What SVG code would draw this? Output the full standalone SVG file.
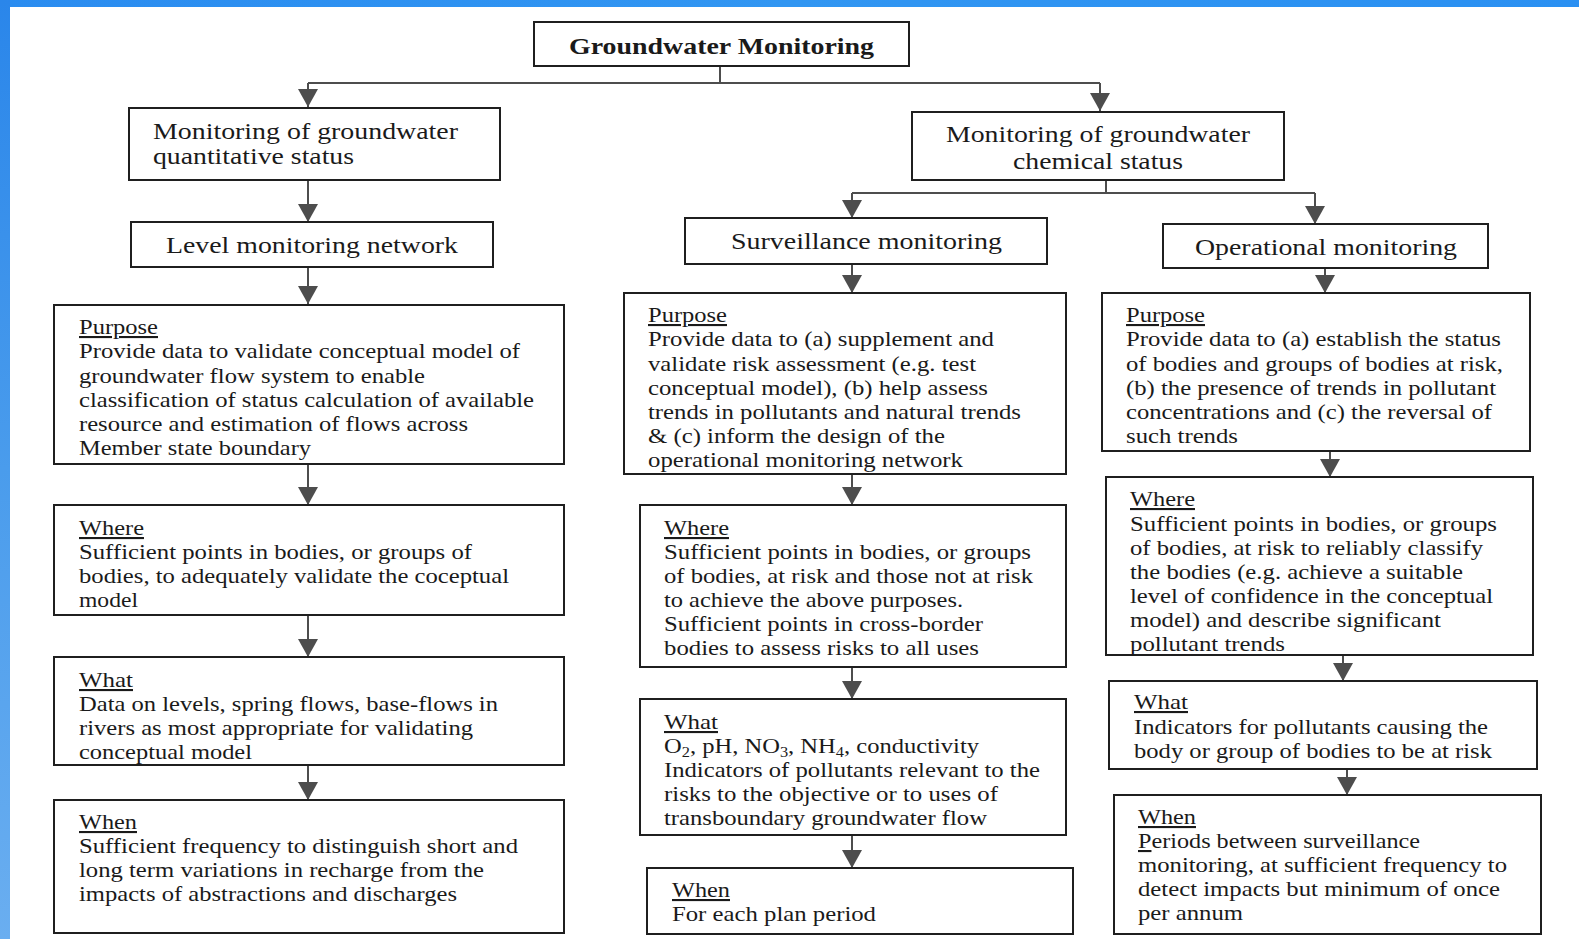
<svg xmlns="http://www.w3.org/2000/svg" width="1579" height="939" viewBox="0 0 1579 939">
<defs>
<linearGradient id="gTop" x1="0" y1="0" x2="1" y2="0">
<stop offset="0" stop-color="#2a8cf0"/><stop offset="0.5" stop-color="#3196f2"/><stop offset="1" stop-color="#2a90f2"/>
</linearGradient>
<linearGradient id="gLeft" x1="0" y1="0" x2="0" y2="1">
<stop offset="0" stop-color="#2a86ea"/><stop offset="0.5" stop-color="#4a9cec"/><stop offset="1" stop-color="#6aaef0"/>
</linearGradient>
<marker id="ah" viewBox="0 0 18 20" refX="18" refY="10" markerWidth="18" markerHeight="20" markerUnits="userSpaceOnUse" orient="auto">
<path d="M0,0 L18,10 L0,20 Z" fill="#4d4d4d"/>
</marker>
<style>
.box{fill:#fff;stroke:#1f1f1f;stroke-width:2}
.t{font-family:"Liberation Serif","Times New Roman",serif;font-size:21px;fill:#1a1a1a}
.h{font-size:23px}
.b{font-weight:bold}
.u{text-decoration:underline}
.conn{stroke:#4d4d4d;stroke-width:2;fill:none}
.arr{marker-end:url(#ah)}
.sub{font-size:14px}
</style>
</defs>
<rect x="0" y="0" width="1579" height="939" fill="#fff"/>
<rect x="0" y="0" width="1579" height="7" fill="url(#gTop)"/>
<rect x="0" y="0" width="10" height="939" fill="url(#gLeft)"/>

<g id="connectors">
<path class="conn" d="M720,67 V83 M308,83 H1100"/>
<path class="conn arr" d="M308,83 V107"/>
<path class="conn arr" d="M1100,83 V111"/>
<path class="conn arr" d="M308,180 V222"/>
<path class="conn arr" d="M308,267 V304"/>
<path class="conn arr" d="M308,464 V505"/>
<path class="conn arr" d="M308,615 V657"/>
<path class="conn arr" d="M308,765 V800"/>
<path class="conn" d="M1106,180 V193 M852,193 H1315"/>
<path class="conn arr" d="M852,193 V218"/>
<path class="conn arr" d="M1315,193 V224"/>
<path class="conn arr" d="M852,264 V293"/>
<path class="conn arr" d="M852,474 V505"/>
<path class="conn arr" d="M852,667 V699"/>
<path class="conn arr" d="M852,835 V868"/>
<path class="conn arr" d="M1325,268 V293"/>
<path class="conn arr" d="M1330,451 V477"/>
<path class="conn arr" d="M1343,655 V681"/>
<path class="conn arr" d="M1347,769 V795"/>
</g>

<g id="n-root">
<rect class="box" x="534" y="22" width="375" height="44"/>
<text class="t h b" x="569" y="54" textLength="305" lengthAdjust="spacingAndGlyphs">Groundwater Monitoring</text>
</g>

<g id="n-quant">
<rect class="box" x="129" y="108" width="371" height="72"/>
<text class="t h" x="153" y="139" textLength="305" lengthAdjust="spacingAndGlyphs">Monitoring of groundwater</text>
<text class="t h" x="153" y="164" textLength="201" lengthAdjust="spacingAndGlyphs">quantitative status</text>
</g>

<g id="n-level">
<rect class="box" x="131" y="222" width="362" height="45"/>
<text class="t h" x="166" y="253" textLength="292" lengthAdjust="spacingAndGlyphs">Level monitoring network</text>
</g>

<g id="n-l-purpose">
<rect class="box" x="54" y="305" width="510" height="159"/>
<text class="t u" x="79" y="334" textLength="79" lengthAdjust="spacingAndGlyphs">Purpose</text>
<text class="t" x="79" y="358" textLength="441" lengthAdjust="spacingAndGlyphs">Provide data to validate conceptual model of</text>
<text class="t" x="79" y="383" textLength="346" lengthAdjust="spacingAndGlyphs">groundwater flow system to enable</text>
<text class="t" x="79" y="407" textLength="455" lengthAdjust="spacingAndGlyphs">classification of status calculation of available</text>
<text class="t" x="79" y="431" textLength="389" lengthAdjust="spacingAndGlyphs">resource and estimation of flows across</text>
<text class="t" x="79" y="455" textLength="232" lengthAdjust="spacingAndGlyphs">Member state boundary</text>
</g>

<g id="n-l-where">
<rect class="box" x="54" y="505" width="510" height="110"/>
<text class="t u" x="79" y="535" textLength="65" lengthAdjust="spacingAndGlyphs">Where</text>
<text class="t" x="79" y="559" textLength="393" lengthAdjust="spacingAndGlyphs">Sufficient points in bodies, or groups of</text>
<text class="t" x="79" y="583" textLength="430" lengthAdjust="spacingAndGlyphs">bodies, to adequately validate the coceptual</text>
<text class="t" x="79" y="607" textLength="59" lengthAdjust="spacingAndGlyphs">model</text>
</g>

<g id="n-l-what">
<rect class="box" x="54" y="657" width="510" height="108"/>
<text class="t u" x="79" y="687" textLength="54" lengthAdjust="spacingAndGlyphs">What</text>
<text class="t" x="79" y="711" textLength="419" lengthAdjust="spacingAndGlyphs">Data on levels, spring flows, base-flows in</text>
<text class="t" x="79" y="735" textLength="394" lengthAdjust="spacingAndGlyphs">rivers as most appropriate for validating</text>
<text class="t" x="79" y="759" textLength="173" lengthAdjust="spacingAndGlyphs">conceptual model</text>
</g>

<g id="n-l-when">
<rect class="box" x="54" y="800" width="510" height="133"/>
<text class="t u" x="79" y="829" textLength="58" lengthAdjust="spacingAndGlyphs">When</text>
<text class="t" x="79" y="853" textLength="439" lengthAdjust="spacingAndGlyphs">Sufficient frequency to distinguish short and</text>
<text class="t" x="79" y="877" textLength="405" lengthAdjust="spacingAndGlyphs">long term variations in recharge from the</text>
<text class="t" x="79" y="901" textLength="378" lengthAdjust="spacingAndGlyphs">impacts of abstractions and discharges</text>
</g>

<g id="n-chem">
<rect class="box" x="912" y="112" width="372" height="68"/>
<text class="t h" x="946" y="142" textLength="304" lengthAdjust="spacingAndGlyphs">Monitoring of groundwater</text>
<text class="t h" x="1013" y="169" textLength="170" lengthAdjust="spacingAndGlyphs">chemical status</text>
</g>

<g id="n-surv">
<rect class="box" x="685" y="218" width="362" height="46"/>
<text class="t h" x="731" y="249" textLength="271" lengthAdjust="spacingAndGlyphs">Surveillance monitoring</text>
</g>

<g id="n-oper">
<rect class="box" x="1163" y="224" width="325" height="44"/>
<text class="t h" x="1195" y="255" textLength="262" lengthAdjust="spacingAndGlyphs">Operational monitoring</text>
</g>

<g id="n-m-purpose">
<rect class="box" x="624" y="293" width="442" height="181"/>
<text class="t u" x="648" y="322" textLength="79" lengthAdjust="spacingAndGlyphs">Purpose</text>
<text class="t" x="648" y="346" textLength="346" lengthAdjust="spacingAndGlyphs">Provide data to (a) supplement and</text>
<text class="t" x="648" y="371" textLength="328" lengthAdjust="spacingAndGlyphs">validate risk assessment (e.g. test</text>
<text class="t" x="648" y="395" textLength="340" lengthAdjust="spacingAndGlyphs">conceptual model), (b) help assess</text>
<text class="t" x="648" y="419" textLength="373" lengthAdjust="spacingAndGlyphs">trends in pollutants and natural trends</text>
<text class="t" x="648" y="443" textLength="297" lengthAdjust="spacingAndGlyphs">&amp; (c) inform the design of the</text>
<text class="t" x="648" y="467" textLength="315" lengthAdjust="spacingAndGlyphs">operational monitoring network</text>
</g>

<g id="n-m-where">
<rect class="box" x="640" y="505" width="426" height="162"/>
<text class="t u" x="664" y="535" textLength="65" lengthAdjust="spacingAndGlyphs">Where</text>
<text class="t" x="664" y="559" textLength="367" lengthAdjust="spacingAndGlyphs">Sufficient points in bodies, or groups</text>
<text class="t" x="664" y="583" textLength="369" lengthAdjust="spacingAndGlyphs">of bodies, at risk and those not at risk</text>
<text class="t" x="664" y="607" textLength="299" lengthAdjust="spacingAndGlyphs">to achieve the above purposes.</text>
<text class="t" x="664" y="631" textLength="319" lengthAdjust="spacingAndGlyphs">Sufficient points in cross-border</text>
<text class="t" x="664" y="655" textLength="315" lengthAdjust="spacingAndGlyphs">bodies to assess risks to all uses</text>
</g>

<g id="n-m-what">
<rect class="box" x="640" y="699" width="426" height="136"/>
<text class="t u" x="664" y="729" textLength="54" lengthAdjust="spacingAndGlyphs">What</text>
<text class="t" x="664" y="753" textLength="315" lengthAdjust="spacingAndGlyphs">O<tspan class="sub" dy="4">2</tspan><tspan dy="-4">, pH, NO</tspan><tspan class="sub" dy="4">3</tspan><tspan dy="-4">, NH</tspan><tspan class="sub" dy="4">4</tspan><tspan dy="-4">, conductivity</tspan></text>
<text class="t" x="664" y="777" textLength="376" lengthAdjust="spacingAndGlyphs">Indicators of pollutants relevant to the</text>
<text class="t" x="664" y="801" textLength="334" lengthAdjust="spacingAndGlyphs">risks to the objective or to uses of</text>
<text class="t" x="664" y="825" textLength="323" lengthAdjust="spacingAndGlyphs">transboundary groundwater flow</text>
</g>

<g id="n-m-when">
<rect class="box" x="647" y="868" width="426" height="66"/>
<text class="t u" x="672" y="897" textLength="58" lengthAdjust="spacingAndGlyphs">When</text>
<text class="t" x="672" y="921" textLength="204" lengthAdjust="spacingAndGlyphs">For each plan period</text>
</g>

<g id="n-r-purpose">
<rect class="box" x="1102" y="293" width="428" height="158"/>
<text class="t u" x="1126" y="322" textLength="79" lengthAdjust="spacingAndGlyphs">Purpose</text>
<text class="t" x="1126" y="346" textLength="375" lengthAdjust="spacingAndGlyphs">Provide data to (a) establish the status</text>
<text class="t" x="1126" y="371" textLength="377" lengthAdjust="spacingAndGlyphs">of bodies and groups of bodies at risk,</text>
<text class="t" x="1126" y="395" textLength="370" lengthAdjust="spacingAndGlyphs">(b) the presence of trends in pollutant</text>
<text class="t" x="1126" y="419" textLength="366" lengthAdjust="spacingAndGlyphs">concentrations and (c) the reversal of</text>
<text class="t" x="1126" y="443" textLength="112" lengthAdjust="spacingAndGlyphs">such trends</text>
</g>

<g id="n-r-where">
<rect class="box" x="1106" y="477" width="427" height="178"/>
<text class="t u" x="1130" y="506" textLength="65" lengthAdjust="spacingAndGlyphs">Where</text>
<text class="t" x="1130" y="531" textLength="367" lengthAdjust="spacingAndGlyphs">Sufficient points in bodies, or groups</text>
<text class="t" x="1130" y="555" textLength="353" lengthAdjust="spacingAndGlyphs">of bodies, at risk to reliably classify</text>
<text class="t" x="1130" y="579" textLength="333" lengthAdjust="spacingAndGlyphs">the bodies (e.g. achieve a suitable</text>
<text class="t" x="1130" y="603" textLength="363" lengthAdjust="spacingAndGlyphs">level of confidence in the conceptual</text>
<text class="t" x="1130" y="627" textLength="311" lengthAdjust="spacingAndGlyphs">model) and describe significant</text>
<text class="t" x="1130" y="651" textLength="155" lengthAdjust="spacingAndGlyphs">pollutant trends</text>
</g>

<g id="n-r-what">
<rect class="box" x="1109" y="681" width="428" height="88"/>
<text class="t u" x="1134" y="709" textLength="54" lengthAdjust="spacingAndGlyphs">What</text>
<text class="t" x="1134" y="734" textLength="354" lengthAdjust="spacingAndGlyphs">Indicators for pollutants causing the</text>
<text class="t" x="1134" y="758" textLength="358" lengthAdjust="spacingAndGlyphs">body or group of bodies to be at risk</text>
</g>

<g id="n-r-when">
<rect class="box" x="1114" y="795" width="427" height="139"/>
<text class="t u" x="1138" y="824" textLength="58" lengthAdjust="spacingAndGlyphs">When</text>
<text class="t" x="1138" y="848" textLength="282" lengthAdjust="spacingAndGlyphs"><tspan class="u">P</tspan>eriods between surveillance</text>
<text class="t" x="1138" y="872" textLength="369" lengthAdjust="spacingAndGlyphs">monitoring, at sufficient frequency to</text>
<text class="t" x="1138" y="896" textLength="362" lengthAdjust="spacingAndGlyphs">detect impacts but minimum of once</text>
<text class="t" x="1138" y="920" textLength="105" lengthAdjust="spacingAndGlyphs">per annum</text>
</g>
</svg>
